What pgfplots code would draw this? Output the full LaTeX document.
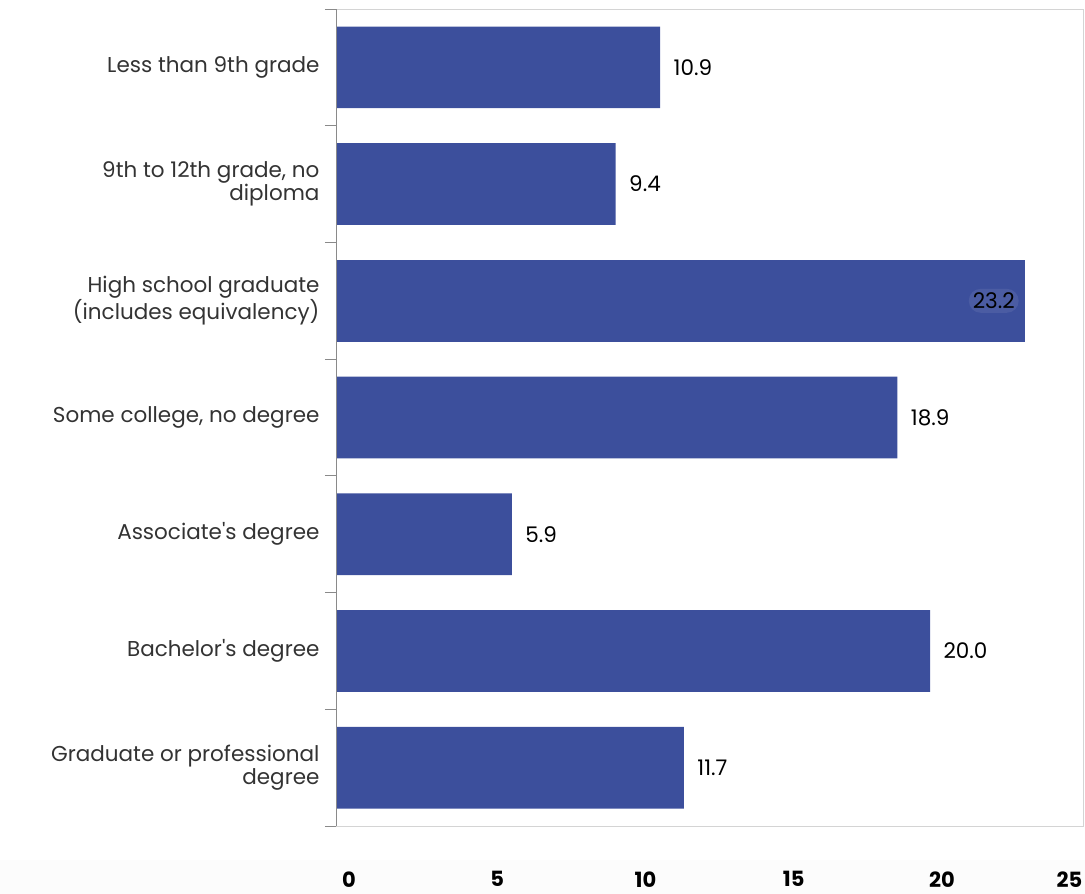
\documentclass[border=0pt]{standalone}
\usepackage{pgfplots}
\pgfplotsset{compat=1.18}
\usepackage{fontspec}
\setmainfont{Poppins}
\definecolor{barc}{HTML}{3C4F9C}
\definecolor{txt}{HTML}{333333}
\definecolor{frame}{HTML}{D4D4D4}
\definecolor{leftax}{HTML}{8A8A8A}
\definecolor{band}{HTML}{FCFCFC}
\begin{document}
\begin{tikzpicture}
\fill[band] (-337pt,-68pt) rectangle (748pt,-34pt);
\begin{axis}[
  at={(0pt,0pt)}, anchor=south west,
  scale only axis,
  width=746pt, height=817pt,
  xmin=0, xmax=25.16,
  ymin=-0.5, ymax=6.5,
  y dir=reverse,
  xbar, bar width=0.7,
  axis line style={frame, line width=1pt},
  xtick={0,5,10,15,20,25},
  xticklabels={0,5,10,15,20,\llap{25\kern8pt}},
  xticklabel style={font=\fontsize{21}{24}\selectfont\bfseries, text=black, xshift=12pt, yshift=-42pt},
  ytick={0,1,2,3,4,5,6},
  yticklabels={Less than 9th grade, {9th to 12th grade, no\\diploma}, {High school graduate\\(includes equivalency)}, {Some college, no degree}, {Associate\textquotesingle s degree}, {Bachelor\textquotesingle s degree}, {Graduate or professional\\degree}},
  yticklabel style={font=\fontsize{21.5}{23}\selectfont, text=txt, align=right, xshift=-14pt},
  minor ytick={-0.5,0.5,1.5,2.5,3.5,4.5,5.5,6.5},
  major tick length=0pt,
  minor tick length=12pt,
  tick align=outside,
  ytick pos=left, xtick pos=bottom,
  minor tick style={leftax, line width=1pt},
  every tick/.style={leftax},
  clip=false,
]
\addplot[fill=barc, draw=none, bar shift=0pt,
  nodes near coords, point meta=explicit symbolic,
  every node near coord/.append style={anchor=west, xshift=10pt, font=\fontsize{21.5}{23}\selectfont, text=black}]
  table[meta=lab] {
x y lab
10.9 0 10.9
9.4 1 9.4
18.9 3 18.9
5.9 4 5.9
20.0 5 20.0
11.7 6 11.7
};
\addplot[fill=barc, draw=none, bar shift=0pt,
  nodes near coords, point meta=explicit symbolic,
  every node near coord/.append style={anchor=east, xshift=-6pt, font=\fontsize{21.5}{23}\selectfont, text=black, fill=white, rounded corners=12pt, inner sep=4pt, fill opacity=0.08, text opacity=1}]
  table[meta=lab] {
x y lab
23.2 2 23.2
};
\draw[leftax, line width=1pt] (rel axis cs:0,0) -- (rel axis cs:0,1);
\end{axis}
\pgfresetboundingbox
\path[use as bounding box] (-337pt,-68pt) rectangle (748pt,826pt);
\end{tikzpicture}
\end{document}
